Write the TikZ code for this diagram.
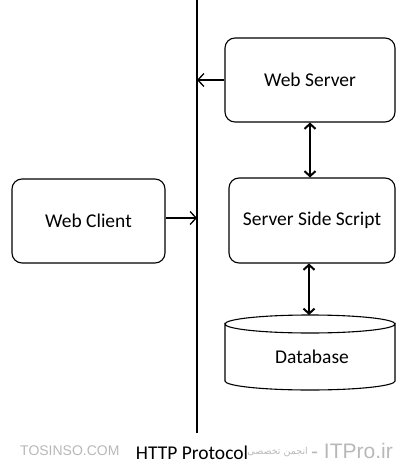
\documentclass[tikz,border=0pt]{standalone}
\usepackage{fontspec}
\setmainfont{Carlito}
\newfontfamily\arabicfont[Script=Arabic]{DejaVu Sans}
\newfontfamily\wmfont{Liberation Sans}
\TeXXeTstate=1
\usetikzlibrary{arrows.meta,shapes.geometric}
\tikzset{
  box/.style={draw=black, line width=1.1pt, rounded corners=10pt, fill=white, font=\fontsize{19.5}{22}\selectfont, inner sep=0pt},
  lnk/.style={line width=1.3pt, -{Straight Barb[length=6pt,width=13pt,line width=1.3pt]}},
  dbl/.style={line width=2.4pt, {Straight Barb[length=5pt,width=11pt,line width=2pt]}-{Straight Barb[length=5pt,width=11pt,line width=2pt]}},
  wm/.style={text=black!28, inner sep=0pt},
}
\begin{document}
\begin{tikzpicture}[x=1pt,y=-1pt]
\useasboundingbox (0,0) rectangle (411,473);
% protocol line
\coordinate (ltop) at (197,0);
\coordinate (lbot) at (197,433);
\draw[line width=1.5pt] (ltop) -- (lbot);
% boxes
\node[box, minimum width=170pt, minimum height=84pt] (ws) at (310,80) {Web Server};
\node[box, minimum width=153pt, minimum height=84pt] (wc) at (88.5,221) {Web Client};
\node[box, minimum width=166pt, minimum height=85pt] (sss) at (312,220.5) {Server Side Script};
% database cylinder
\draw[line width=1.1pt, fill=white] (225,324) -- (225,381) arc[start angle=180,end angle=360,x radius=85pt,y radius=9pt] -- (395,324) arc[start angle=0,end angle=-180,x radius=85pt,y radius=9pt] -- cycle;
\draw[line width=1.1pt] (225,324) arc[start angle=180,end angle=0,x radius=85pt,y radius=9pt];
\node[font=\fontsize{19.5}{22}\selectfont, inner sep=0pt] (db) at (312,357) {Database};
% connectors
\coordinate (wsin) at (197,80);
\coordinate (wcin) at (197,218);
\draw[lnk] (ws.west) -- (wsin);
\draw[lnk] (wc.east|-wcin) -- (wcin);
\draw[dbl] (310,122.5) -- (310,177.5);
\draw[dbl] (309,263.5) -- (309,315);
% label
\node[font=\fontsize{19.5}{22}\selectfont, inner sep=0pt] (http) at (192,453) {HTTP Protocol};
% watermark
\node[wm, anchor=east, font=\wmfont\fontsize{21}{24}\selectfont] (wm1) at (393,451) {- ITPro.ir};
\node[wm, anchor=east, font=\arabicfont\fontsize{9.5}{11}\selectfont] (wm3) at (308,452) {\beginR انجمن تخصصی\endR};
\node[wm, anchor=west, font=\wmfont\fontsize{14}{16}\selectfont] (wm2) at (20,451) {TOSINSO.COM};
\end{tikzpicture}
\end{document}
